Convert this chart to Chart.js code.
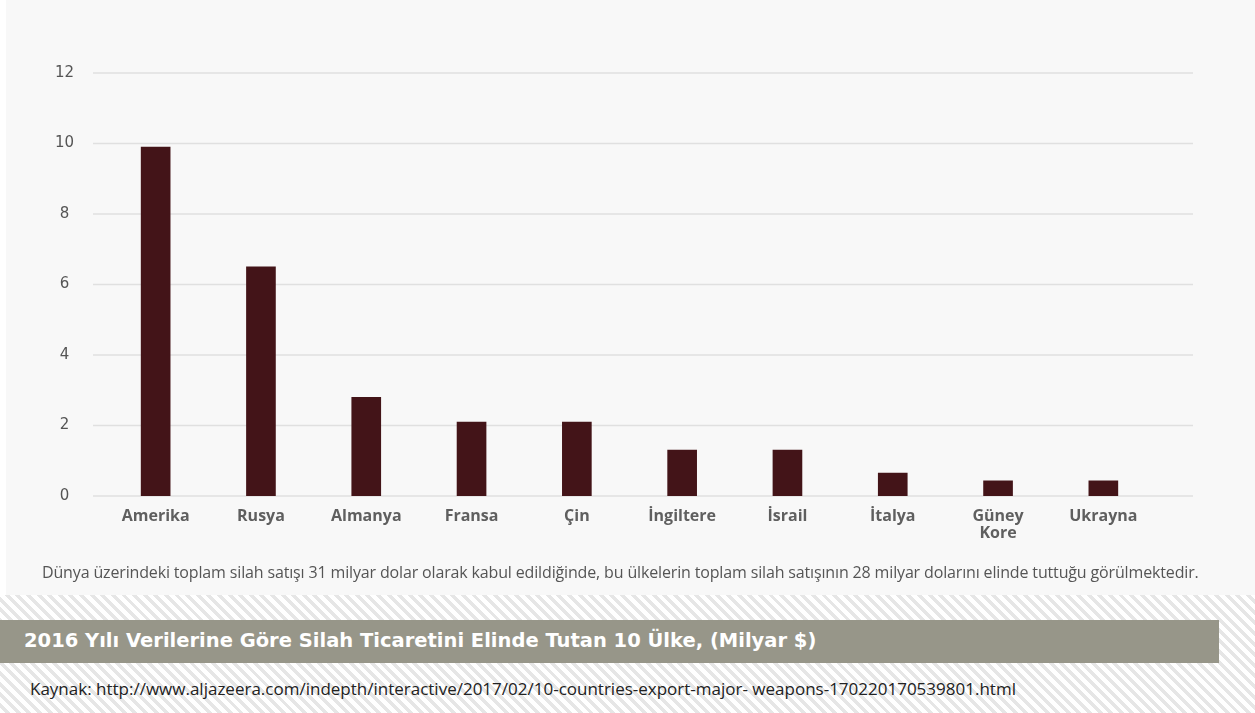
<!DOCTYPE html>
<html lang="tr">
<head>
<meta charset="utf-8">
<script src="https://cdn.jsdelivr.net/npm/chart.js@4/dist/chart.umd.min.js"></script>
<style>
  html, body { margin: 0; padding: 0; }
  body {
    width: 1255px; height: 713px; position: relative; overflow: hidden;
    background: #ffffff;
    font-family: "Open Sans", sans-serif;
  }
  #stripes {
    position: absolute; left: 0; top: 595px; width: 1255px; height: 118px;
    background: repeating-linear-gradient(45deg, #ffffff 0px, #ffffff 4px, #e6e6e6 4px, #e6e6e6 7.5px);
  }
  #panel {
    position: absolute; left: 6px; top: 0; width: 1249px; height: 595px;
    background: #f8f8f8;
  }
  #chartBox { position: absolute; left: 0; top: 0; width: 1249px; height: 595px; }
  #note {
    position: absolute; left: 36px; top: 561px; white-space: nowrap;
    font-size: 16px; color: #555; letter-spacing: -0.15px;
  }
  #titlebar {
    position: absolute; left: 0; top: 620px; width: 1219px; height: 43px;
    background: #979689; color: #fff;
  }
  #titlebar span {
    position: absolute; left: 24px; top: 9px; white-space: nowrap;
    font-family: "DejaVu Sans", sans-serif; font-weight: 700; font-size: 19.5px;
  }
  #source {
    position: absolute; left: 30px; top: 677px; white-space: nowrap;
    font-size: 17px; color: #222;
  }
</style>
</head>
<body>
<div id="stripes"></div>
<div id="panel">
  <div id="chartBox"><canvas id="myChart"></canvas></div>
  <div id="note">Dünya üzerindeki toplam silah satışı 31 milyar dolar olarak kabul edildiğinde, bu ülkelerin toplam silah satışının 28 milyar dolarını elinde tuttuğu görülmektedir.</div>
</div>
<div id="titlebar"><span>2016 Yılı Verilerine Göre Silah Ticaretini Elinde Tutan 10 Ülke, (Milyar $)</span></div>
<div id="source">Kaynak: http://www.aljazeera.com/indepth/interactive/2017/02/10-countries-export-major- weapons-170220170539801.html</div>

<script>
const countries = ["Amerika", "Rusya", "Almanya", "Fransa", "Çin", "İngiltere", "İsrail", "İtalya", ["Güney", "Kore"], "Ukrayna"];
const sales = [9.9, 6.5, 2.8, 2.1, 2.1, 1.3, 1.3, 0.65, 0.43, 0.43];
const yTicks = [0, 2, 4, 6, 8, 10, 12];

// horizontal grid lines, a bit wider than the plot area
const wideGrid = {
  id: "wideGrid",
  beforeDatasetsDraw(chart) {
    const ctx = chart.ctx;
    const y = chart.scales.y;
    const area = chart.chartArea;
    ctx.save();
    ctx.strokeStyle = "#e0e0e0";
    ctx.lineWidth = 1.5;
    yTicks.forEach((v) => {
      const py = y.getPixelForValue(v);
      ctx.beginPath();
      ctx.moveTo(area.left - 10, py);
      ctx.lineTo(area.right + 37, py);
      ctx.stroke();
    });
    ctx.restore();
  },
};

const ctx = document.getElementById("myChart").getContext("2d");
const chart = new Chart(ctx, {
  type: "bar",
  data: {
    labels: countries,
    datasets: [
      {
        label: "Milyar $",
        data: sales,
        backgroundColor: "#431418",
        barThickness: 29,
      },
    ],
  },
  options: {
    responsive: true,
    maintainAspectRatio: false,
    animation: false,
    layout: { padding: { top: 73, right: 99, left: 0, bottom: 0 } },
    plugins: {
      legend: { display: false },
      tooltip: { enabled: false },
    },
    scales: {
      x: {
        grid: { display: false, drawTicks: false },
        border: { display: false },
        ticks: {
          color: "#5f5f5f",
          padding: 12,
          maxRotation: 0,
          autoSkip: false,
          font: { family: "Open Sans", weight: "bold", size: 16, lineHeight: 1.05 },
        },
        afterFit(scale) { scale.height = 99; },
      },
      y: {
        min: 0,
        max: 12,
        grid: { display: false, drawTicks: false },
        border: { display: false },
        afterBuildTicks(scale) { scale.ticks = yTicks.map((v) => ({ value: v })); },
        ticks: {
          color: "#555",
          padding: 29,
          crossAlign: "center",
          font: { family: "DejaVu Sans", size: 15 },
        },
        afterFit(scale) { scale.width = 97; },
      },
    },
  },
  plugins: [wideGrid],
});
</script>
</body>
</html>
